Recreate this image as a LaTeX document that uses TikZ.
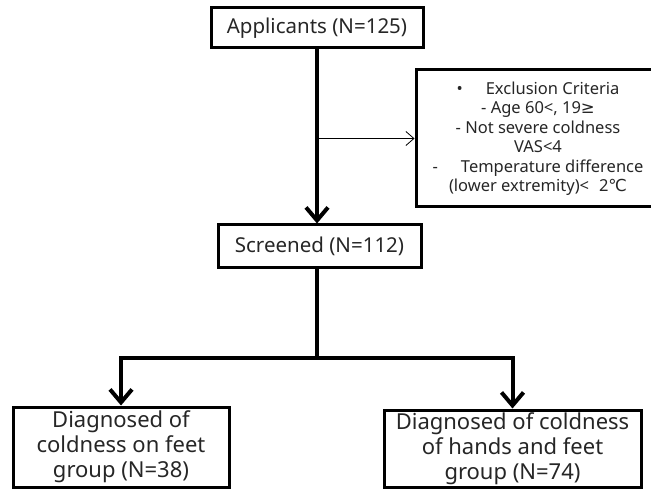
\documentclass[tikz,border=0pt]{standalone}
\usepackage{fontspec}
\setmainfont{Noto Sans}
\newfontfamily\symfont{DejaVu Sans}
\usetikzlibrary{arrows.meta, positioning}
\tikzset{
	every node/.style={
		font=\fontsize{20.5}{24}\selectfont,
		text=black!85
	},
	mainbox/.style={
		shape=rectangle,
		draw,
		line width=3pt,
		inner sep=0pt,
		text centered
	},
	groupbox/.style={
		shape=rectangle,
		draw,
		line width=3pt,
		inner sep=0pt,
		align=center,
		font=\fontsize{22}{25}\selectfont
	},
	criteria/.style={
		shape=rectangle,
		draw,
		line width=3pt,
		inner sep=0pt,
		align=center,
		font=\fontsize{16.5}{19.5}\selectfont
	},
	flow/.style={
		line width=4pt
	},
	flow arrow/.style={
		line width=4pt,
		-{Straight Barb[length=13pt,width=22pt,line width=4pt]}
	},
	side arrow/.style={
		line width=0.8pt,
		-{Straight Barb[length=8pt,width=14pt,line width=0.8pt]}
	}
}

\begin{document}
\begin{tikzpicture}[x=1pt,y=-1pt]
  \useasboundingbox (0,0) rectangle (651,489);

  \node[mainbox, minimum width=212pt, minimum height=40pt] (app) at (317,28) {Applicants (N=125)};
  \node[mainbox, minimum width=203pt, minimum height=43pt] (screen) at (319.5,246.5) {Screened (N=112)};
  \node[criteria, minimum width=244pt, minimum height=137pt] (excl) at (538,138.5)
    {\textbullet\hspace{1.4em}Exclusion Criteria\\
     - Age 60<, 19{\symfont ≥}\\
     - Not severe coldness\\
     VAS<4\\
     -\hspace{1.4em}Temperature difference\\
     (lower extremity)<\hspace{0.6em}2{\symfont ℃}};
  \node[groupbox, minimum width=216pt, minimum height=80pt] (feet) at (121,447)
    {Diagnosed of\\coldness on feet\\group (N=38)};
  \node[groupbox, minimum width=257pt, minimum height=77pt] (hands) at (512.5,448.5)
    {Diagnosed of coldness\\of hands and feet\\group (N=74)};
  \coordinate (split) at (317,358);

  \draw[flow arrow] (app.south) -- (app.south |- screen.north);
  \draw[side arrow] (app.south |- excl.west) -- (excl.west);
  \draw[flow] (screen.south -| split) -- (split);
  \draw[flow arrow] (split) -| (feet.north);
  \draw[flow arrow] (split) -| (hands.north);
\end{tikzpicture}
\end{document}
